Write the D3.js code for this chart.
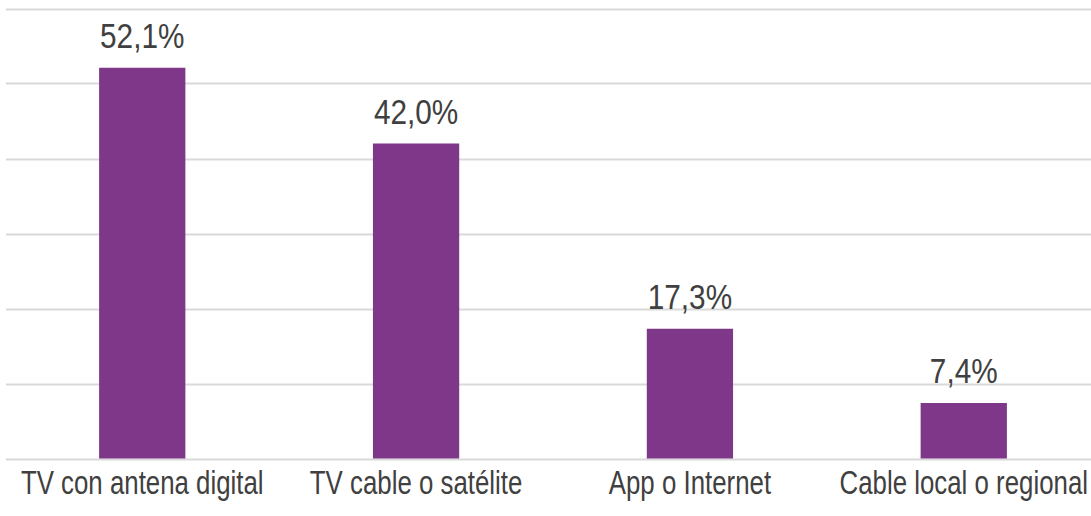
<!DOCTYPE html>
<html>
<head>
<meta charset="utf-8">
<script src="https://cdn.jsdelivr.net/npm/d3@7"></script>
<style>
  body { margin: 0; background: #fff; }
  svg text { font-family: "Liberation Sans Narrow", "Arial Narrow", "Liberation Sans", sans-serif; fill: #404040; }
</style>
</head>
<body>
<div id="main"></div>
<script>
// datos del gráfico
const categories = ['TV con antena digital', 'TV cable o satélite', 'App o Internet', 'Cable local o regional'];
const values = [52.1, 42.0, 17.3, 7.4];
const yTicks = [0, 10, 20, 30, 40, 50, 60];

const W = 1091, H = 516,
      plotLeft = 6, plotRight = 1091, plotTop = 8.5, plotBottom = 458.5,
      barColor = '#7f3789',
      squeezeVal = 0.85,   // sin fuente estrecha: se comprime el texto
      squeezeCat = 0.76;

const svg = d3.select('#main')
    .append('svg')
    .attr('width', W)
    .attr('height', H);

// escalas
const xScale = d3.scaleBand()
    .domain(categories)
    .range([plotLeft, 1100])
    .paddingInner(0.685)
    .paddingOuter(0.34);

const yScale = d3.scaleLinear()
    .domain([0, 60])
    .range([plotBottom, plotTop]);

const cx = c => xScale(c) + xScale.bandwidth() / 2;

// líneas de la cuadrícula
svg.append('g')
    .selectAll('line')
    .data(yTicks)
    .enter()
    .append('line')
    .attr('x1', plotLeft)
    .attr('x2', plotRight)
    .attr('y1', d => Math.round(yScale(d)) + 0.5)
    .attr('y2', d => Math.round(yScale(d)) + 0.5)
    .attr('stroke', '#d9d9d9')
    .attr('stroke-width', 2);

// barras
svg.append('g')
    .selectAll('rect')
    .data(values)
    .enter()
    .append('rect')
    .attr('x', (d, i) => xScale(categories[i]))
    .attr('width', xScale.bandwidth())
    .attr('y', d => yScale(d))
    .attr('height', d => yScale(0) - yScale(d))
    .attr('fill', barColor);

// etiquetas de valor
svg.append('g')
    .selectAll('text')
    .data(values)
    .enter()
    .append('text')
    .attr('transform', (d, i) => 'translate(' + cx(categories[i]) + ',' + (yScale(d) - 20) + ') scale(' + squeezeVal + ',1)')
    .attr('text-anchor', 'middle')
    .style('font-size', '35px')
    .text(d => d.toFixed(1).replace('.', ',') + '%');

// eje x
const xAxis = d3.axisBottom(xScale).tickSize(0).tickPadding(0);
const gx = svg.append('g')
    .attr('transform', 'translate(0,' + plotBottom + ')')
    .call(xAxis);
gx.select('.domain').remove();
gx.attr('font-family', null).attr('font-size', null);
gx.selectAll('text')
    .attr('y', 36)
    .attr('dy', 0)
    .attr('fill', null)
    .attr('transform', 'scale(' + squeezeCat + ',1)')
    .style('font-size', '34px');
</script>
</body>
</html>
